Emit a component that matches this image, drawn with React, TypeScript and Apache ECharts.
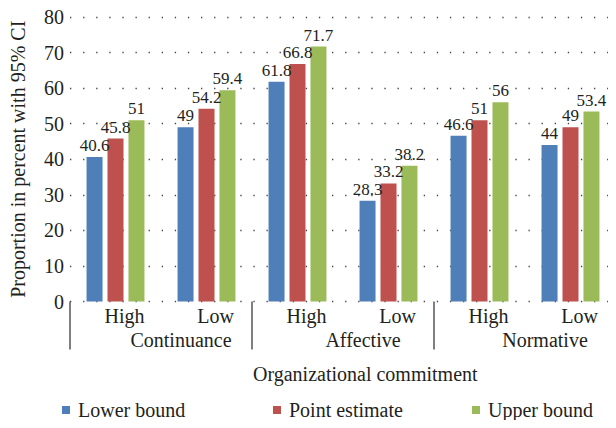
import React, { useEffect, useRef } from "react";
import * as echarts from "echarts";

const categories = ["High", "Low", "High", "Low", "High", "Low"];
const groups = ["Continuance", "Affective", "Normative"];
const lowerBound = [40.6, 49, 61.8, 28.3, 46.6, 44];
const pointEstimate = [45.8, 54.2, 66.8, 33.2, 51, 49];
const upperBound = [51, 59.4, 71.7, 38.2, 56, 53.4];
const seriesNames = ["Lower bound", "Point estimate", "Upper bound"];
const colors = ["#4F7FB8", "#BE514E", "#9BBB59"];

const FONT = "'Liberation Serif', 'DejaVu Serif', serif";
const TXT = "#231f20";
const legendLefts = [62, 273, 472];

export default function App() {
  const ref = useRef<HTMLDivElement>(null);
  useEffect(() => {
    const chart = echarts.init(ref.current!, null, { renderer: "svg" });
    const data = [lowerBound, pointEstimate, upperBound];
    chart.setOption({
      animation: false,
      textStyle: { fontFamily: FONT, color: TXT },
      title: {
        text: "Organizational commitment",
        left: 253,
        top: 364,
        padding: 0,
        textStyle: { fontFamily: FONT, fontSize: 20, fontWeight: "normal", color: TXT },
      },
      legend: seriesNames.map((n, i) => ({
        data: [n],
        left: legendLefts[i],
        top: 400,
        padding: 0,
        icon: "rect",
        itemWidth: 8,
        itemHeight: 8,
        textStyle: { fontFamily: FONT, fontSize: 20, color: TXT, padding: [0, 0, 0, 3] },
      })),
      grid: { left: 68.5, right: -11.5, top: 17, bottom: 126.5, containLabel: false },
      xAxis: [
        {
          type: "category",
          data: categories,
          position: "bottom",
          axisLine: { show: false },
          axisTick: { show: false },
          axisLabel: {
            fontFamily: FONT,
            fontSize: 20,
            color: TXT,
            margin: 4,
            padding: [0, 0, 0, 18],
          },
        },
        {
          type: "category",
          data: groups,
          position: "bottom",
          axisLine: { show: false },
          axisTick: { show: true, length: 48, lineStyle: { color: "#555", width: 1.5 } },
          axisLabel: {
            fontFamily: FONT,
            fontSize: 20,
            color: TXT,
            margin: 28,
            padding: [0, 0, 0, 40],
          },
        },
      ],
      yAxis: {
        type: "value",
        min: 0,
        max: 80,
        interval: 10,
        name: "Proportion in percent with 95% CI",
        nameLocation: "middle",
        nameGap: 42,
        nameTextStyle: { fontFamily: FONT, fontSize: 20, color: TXT },
        axisLine: { show: false },
        axisTick: { show: false },
        axisLabel: { fontFamily: FONT, fontSize: 20, color: TXT, margin: 6 },
        splitLine: { lineStyle: { color: "#444", width: 1.3, type: [1.3, 11.8] } },
      },
      series: seriesNames.map((name, i) => ({
        name,
        type: "bar",
        xAxisIndex: 0,
        data: data[i],
        barWidth: 16,
        barGap: "31%",
        itemStyle: { color: colors[i] },
        label: {
          show: true,
          position: "top",
          distance: 3,
          fontFamily: FONT,
          fontSize: 17,
          color: TXT,
        },
      })),
    });
    return () => chart.dispose();
  }, []);
  return <div ref={ref} style={{ width: 616, height: 428, margin: -8 }} />;
}
